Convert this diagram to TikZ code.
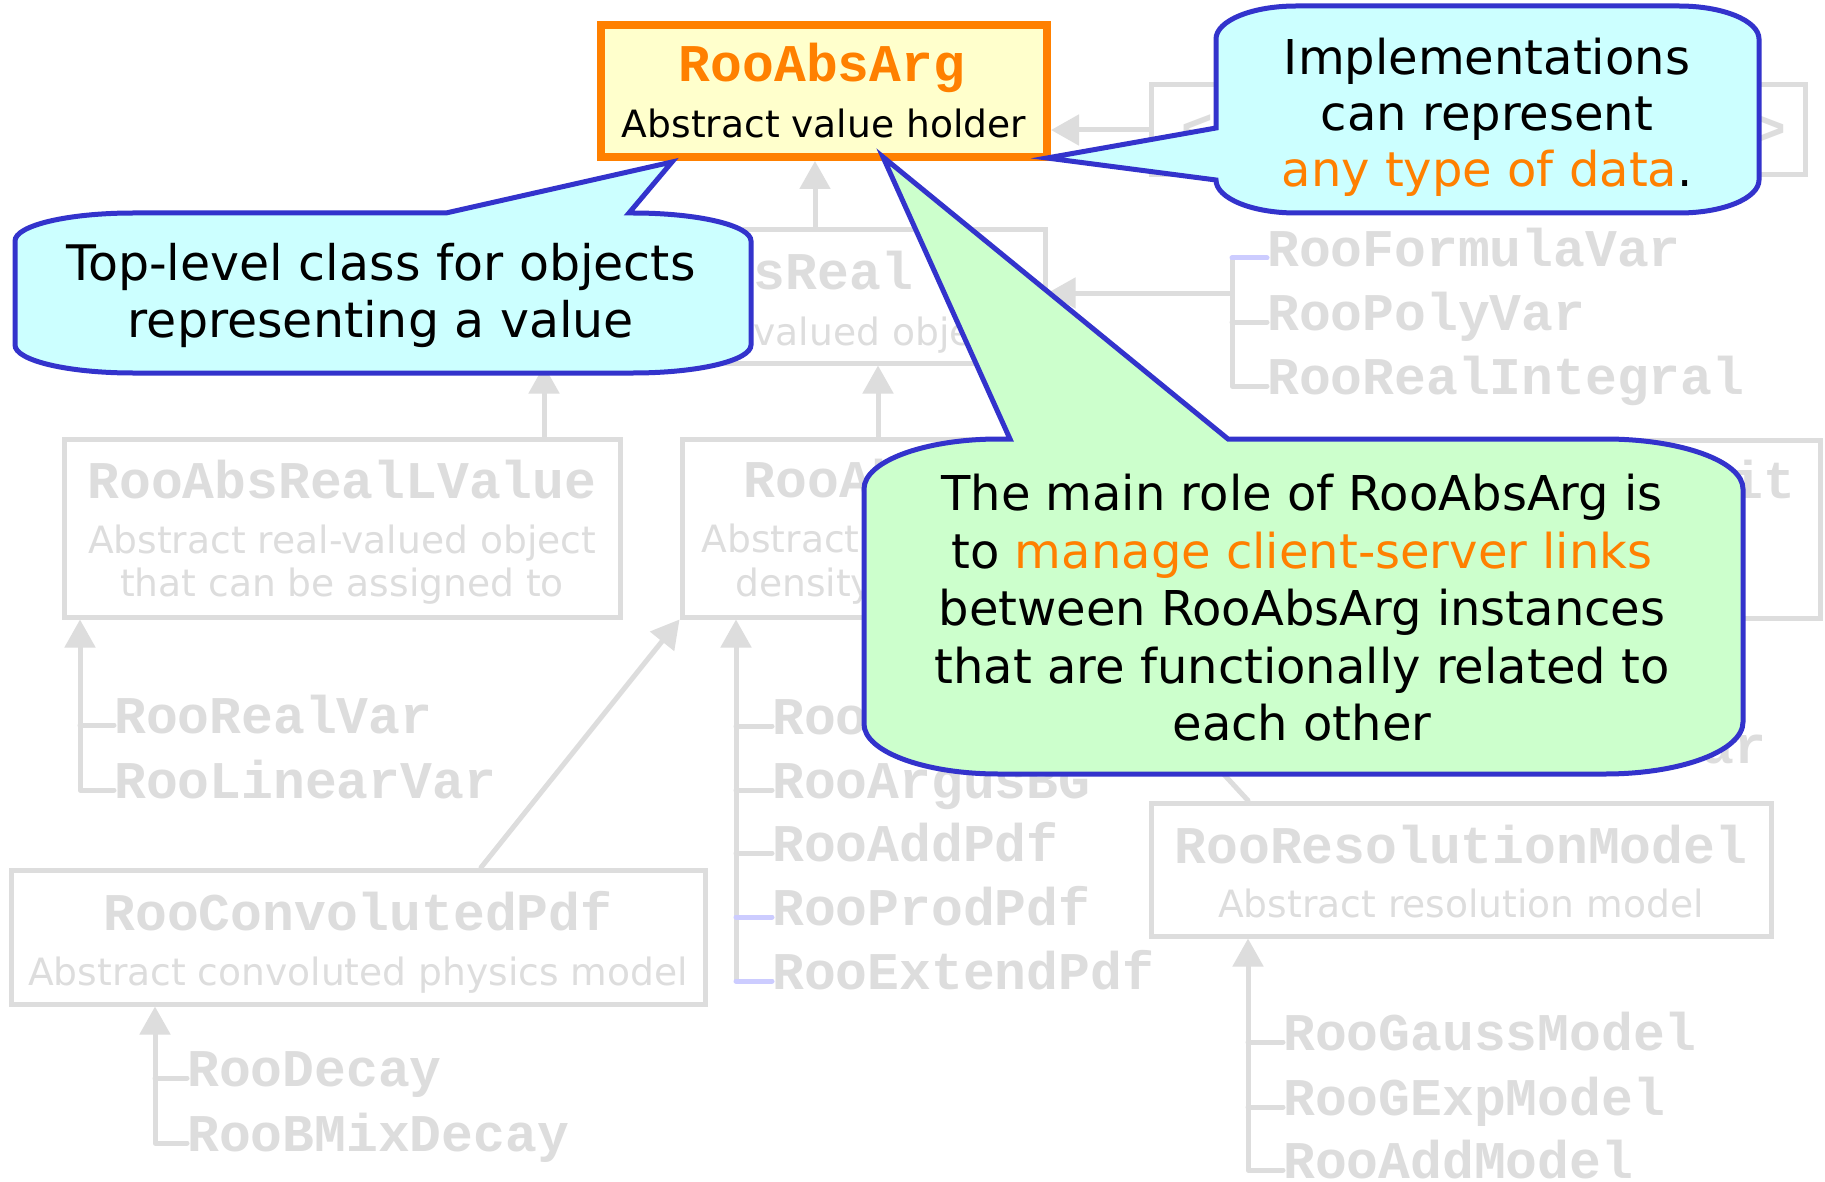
\documentclass[tikz,border=0pt]{standalone}
\usepackage{fontspec}
\setmainfont{DejaVu Sans}
\newfontfamily\codefont{Liberation Mono}
\usetikzlibrary{arrows.meta}

\definecolor{ghost}{RGB}{221,221,221}
\definecolor{ghostblue}{RGB}{204,204,255}
\definecolor{calloutline}{RGB}{51,51,204}
\definecolor{cyanfill}{RGB}{204,255,255}
\definecolor{greenfill}{RGB}{204,255,204}
\definecolor{hiorange}{RGB}{255,128,0}
\definecolor{notefill}{RGB}{255,255,204}

\begin{document}
\begin{tikzpicture}[x=1pt,y=-1pt,
  ghostline/.style={draw=ghost, line width=5pt, line cap=round, line join=round},
  ghostarrow/.style={ghostline, -{Triangle[length=28pt,width=30pt]}},
  classbox/.style={draw=ghost, line width=5pt, inner sep=0pt},
  classtitle/.style={anchor=base, inner sep=0pt, text=ghost,
    font=\fontsize{53}{60}\selectfont\codefont\bfseries},
  classdesc/.style={anchor=base, inner sep=0pt, text=ghost,
    font=\fontsize{37.6}{44}\selectfont},
  member/.style={anchor=west, inner sep=0pt, text=ghost, text height=30pt, text depth=14pt,
    font=\fontsize{53}{60}\selectfont\codefont\bfseries},
  callout/.style={draw=calloutline, line width=5pt},
  notetext/.style={anchor=base, inner sep=0pt, text=black,
    font=\fontsize{48}{56}\selectfont},
  widenote/.style={notetext, font=\fontsize{49}{56}\selectfont}]

\useasboundingbox (0,0) rectangle (1825,1182);
\fill[white] (0,0) rectangle (1825,1182);

% ---------- class boxes ----------
\node[classbox, minimum width=654pt, minimum height=90pt] (tmpl) at (1478,130) {};
\node[classtitle] (tmplL) at (1197,147) {<};
\node[classtitle] (tmplR) at (1770,147) {>};

\node[classbox, minimum width=582pt, minimum height=133pt] (absreal) at (754,296.5) {};
\node[classtitle] (absrealT) at (754,290) {RooAbsReal};
\node[classdesc] (absrealD) at (754,345) {Abstract real-valued object};

\node[classbox, minimum width=556pt, minimum height=178pt] (lvalue) at (342,528) {};
\node[classtitle] (lvalueT) at (342,498) {RooAbsRealLValue};
\node[classdesc] (lvalueD1) at (342,553) {Abstract real-valued object};
\node[classdesc] (lvalueD2) at (342,596) {that can be assigned to};

\node[classbox, minimum width=410pt, minimum height=178pt] (abspdf) at (887,528) {};
\node[classtitle] (abspdfT) at (887,497) {RooAbsPdf};
\node[classdesc] (abspdfD1) at (887,552) {Abstract probability};
\node[classdesc] (abspdfD2) at (887,596) {density function};

\node[classbox, minimum width=656pt, minimum height=178pt] (gof) at (1492,529) {};
\node[classtitle] (gofT) at (1493,498) {RooAbsGoodnessOfFit};

\node[classbox, minimum width=694pt, minimum height=134pt] (convol) at (358,937) {};
\node[classtitle] (convolT) at (358,930) {RooConvolutedPdf};
\node[classdesc] (convolD) at (358,985) {Abstract convoluted physics model};

\node[classbox, minimum width=620pt, minimum height=133pt] (resol) at (1461,869.5) {};
\node[classtitle] (resolT) at (1461,863) {RooResolutionModel};
\node[classdesc] (resolD) at (1461,917) {Abstract resolution model};

% ---------- highlighted base class ----------
\node[draw=hiorange, line width=8pt, fill=notefill, inner sep=0pt,
      minimum width=446pt, minimum height=132pt] (absarg) at (824,91) {};
\node[classtitle, text=hiorange] (absargT) at (822,82) {RooAbsArg};
\node[classdesc, text=black] (absargD) at (824,138) {Abstract value holder};

% ---------- inheritance links ----------
\coordinate (xArg) at (815,0);
\coordinate (xLv) at (544,0);
\coordinate (xPdf) at (878,0);
\coordinate (xConv) at (481,0);
\coordinate (xRes) at (1248,0);
\coordinate (xPdfB) at (1081,0);

\draw[ghostarrow] (tmpl.west) -- (tmpl.west -| absarg.east);
\draw[ghostarrow] (absreal.north -| xArg) -- (absarg.south -| xArg);
\draw[ghostarrow] (lvalue.north -| xLv) -- (absreal.south -| xLv);
\draw[ghostarrow] (abspdf.north -| xPdf) -- (absreal.south -| xPdf);
\draw[ghostarrow] (convol.north -| xConv) -- (abspdf.south west);
\draw[ghostarrow] (resol.north -| xRes) -- (abspdf.south -| xPdfB);

% RooAbsReal leaf classes
\coordinate (hubR) at (1232,293);
\node[member] (fvar) at (1267,258) {RooFormulaVar};
\node[member] (pvar) at (1267,322) {RooPolyVar};
\node[member] (rint) at (1267,386) {RooRealIntegral};
\draw[ghostarrow] (hubR) -- (hubR -| absreal.east);
\draw[ghostline] (fvar.west -| hubR) -- (rint.west -| hubR) -- (rint.west);
\draw[ghostline] (pvar.west -| hubR) -- (pvar.west);
\draw[ghostline, draw=ghostblue] (fvar.west -| hubR) -- (fvar.west);

% RooAbsRealLValue leaf classes
\coordinate (vL) at (80,0);
\node[member] (realvar) at (114,725) {RooRealVar};
\node[member] (linvar) at (114,790) {RooLinearVar};
\draw[ghostarrow] (linvar.west) -- (linvar.west -| vL) -- (lvalue.south -| vL);
\draw[ghostline] (realvar.west -| vL) -- (realvar.west);

% RooAbsPdf leaf classes
\coordinate (vP) at (736,0);
\node[member] (gauss) at (772,726) {RooGaussian};
\node[member] (argus) at (772,790) {RooArgusBG};
\node[member] (addpdf) at (772,853) {RooAddPdf};
\node[member] (prodpdf) at (772,917) {RooProdPdf};
\node[member] (extpdf) at (772,981) {RooExtendPdf};
\draw[ghostarrow] (extpdf.west -| vP) -- (abspdf.south -| vP);
\draw[ghostline] (gauss.west -| vP) -- (gauss.west);
\draw[ghostline] (argus.west -| vP) -- (argus.west);
\draw[ghostline] (addpdf.west -| vP) -- (addpdf.west);
\draw[ghostline, draw=ghostblue] (prodpdf.west -| vP) -- (prodpdf.west);
\draw[ghostline, draw=ghostblue] (extpdf.west -| vP) -- (extpdf.west);

% goodness-of-fit leaf classes
\coordinate (vG) at (1413,0);
\node[member] (nll) at (1448,691) {RooNLLVar};
\node[member] (chi2) at (1448,755) {RooChi2Var};
\draw[ghostarrow] (chi2.west) -- (chi2.west -| vG) -- (gof.south -| vG);
\draw[ghostline] (nll.west -| vG) -- (nll.west);

% RooConvolutedPdf leaf classes
\coordinate (vC) at (155,0);
\node[member] (decay) at (187,1078) {RooDecay};
\node[member] (bmix) at (187,1143) {RooBMixDecay};
\draw[ghostarrow] (bmix.west) -- (bmix.west -| vC) -- (convol.south -| vC);
\draw[ghostline] (decay.west -| vC) -- (decay.west);

% RooResolutionModel leaf classes
\coordinate (vM) at (1248,0);
\node[member] (gaussm) at (1283,1042) {RooGaussModel};
\node[member] (gexpm) at (1283,1107) {RooGExpModel};
\node[member] (addm) at (1283,1170) {RooAddModel};
\draw[ghostarrow] (addm.west) -- (addm.west -| vM) -- (resol.south -| vM);
\draw[ghostline] (gaussm.west -| vM) -- (gaussm.west);
\draw[ghostline] (gexpm.west -| vM) -- (gexpm.west);

% redraw the highlighted box border over the arrow tips
\draw[hiorange, line width=8pt] (absarg.south west) ++(4,-4) rectangle ([shift={(-4,4)}]absarg.north east);

% ---------- callouts ----------
% left: top-level class
\filldraw[callout, fill=cyanfill]
  (133,213) -- (446,213) -- (672,162) -- (629,213) -- (633,213)
  .. controls (698.2,213) and (751,225.5) .. (751,241) -- (751,345)
  .. controls (751,360.5) and (698.2,373) .. (633,373) -- (133,373)
  .. controls (67.8,373) and (15,360.5) .. (15,345) -- (15,241)
  .. controls (15,225.5) and (67.8,213) .. (133,213) -- cycle;
\node[widenote] (topA) at (381,280) {Top-level class for objects};
\node[widenote] (topB) at (381,337) {representing a value};

% right: implementations
\filldraw[callout, fill=cyanfill]
  (1296,6) -- (1679,6)
  .. controls (1723.2,6) and (1759,20.8) .. (1759,39) -- (1759,180)
  .. controls (1759,198.2) and (1723.2,213) .. (1679,213) -- (1296,213)
  .. controls (1251.8,213) and (1216,198.2) .. (1216,180)
  -- (1047,158) -- (1216,128) -- (1216,39)
  .. controls (1216,20.8) and (1251.8,6) .. (1296,6) -- cycle;
\node[notetext] (implA) at (1487,75) {Implementations};
\node[notetext] (implB) at (1487,131) {can represent};
\node[notetext] (implC) at (1487,187) {{\color{hiorange}any type of data}.};

% bottom: client-server links
\filldraw[callout, fill=greenfill]
  (999,439) -- (1010,439) -- (883,157) -- (1228,439) -- (1605,439)
  .. controls (1681.2,439) and (1743,461.4) .. (1743,489) -- (1743,722)
  .. controls (1743,750.7) and (1681.2,774) .. (1605,774) -- (999,774)
  .. controls (924.4,774) and (864,751.6) .. (864,724) -- (864,489)
  .. controls (864,461.4) and (924.4,439) .. (999,439) -- cycle;
\node[notetext] (roleA) at (1302,510) {The main role of RooAbsArg is};
\node[notetext] (roleB) at (1302,568) {to {\color{hiorange}manage client-server links}};
\node[notetext] (roleC) at (1302,625) {between RooAbsArg instances};
\node[notetext] (roleD) at (1302,683) {that are functionally related to};
\node[notetext] (roleE) at (1302,740) {each other};
\end{tikzpicture}
\end{document}
